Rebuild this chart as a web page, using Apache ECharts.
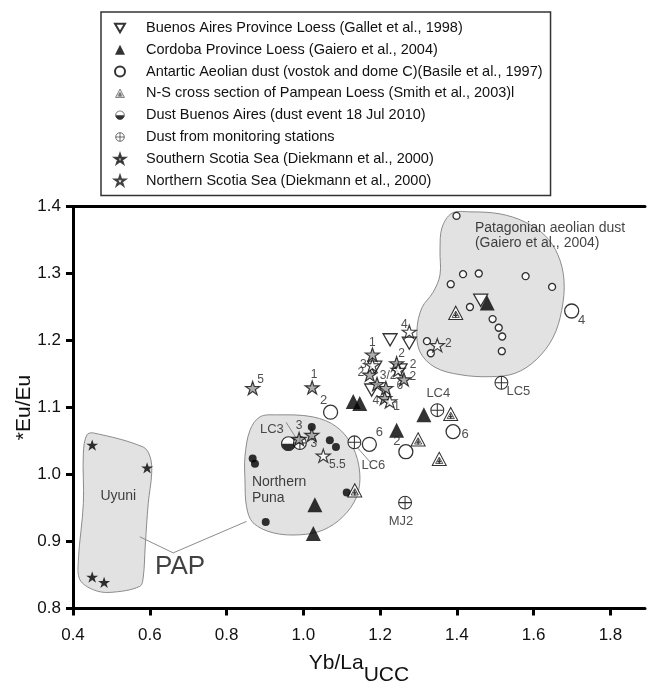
<!DOCTYPE html>
<html>
<head>
<meta charset="utf-8">
<script src="https://cdn.jsdelivr.net/npm/echarts@6/dist/echarts.min.js"></script>
<style>
  html, body { margin: 0; padding: 0; background: #fff; }
  #chart { width: 647px; height: 684px; }
</style>
</head>
<body>
<div id="chart"></div>
<script>
// ---- data: [Yb/La_UCC, *Eu/Eu] ----
const xTicks = [0.4, 0.6, 0.8, 1.0, 1.2, 1.4, 1.6, 1.8];
const yTicks = [0.8, 0.9, 1.0, 1.1, 1.2, 1.3, 1.4];

const buenosAiresLoess = [[1.462, 1.260], [1.226, 1.201], [1.276, 1.196], [1.186, 1.160], [1.178, 1.126], [1.252, 1.156]];
const cordobaLoess = [[1.479, 1.256], [1.130, 1.109], [1.147, 1.106], [1.314, 1.089], [1.243, 1.066], [1.030, 0.955], [1.026, 0.912]];
const antarcticDust = [[1.071, 1.093], [1.172, 1.045], [1.267, 1.034], [1.390, 1.064], [1.699, 1.244]];
const antarcticTags = ['2', '6', '2', '6', '4'];
const pampeanLoess = [[1.397, 1.241], [1.384, 1.090], [1.299, 1.052], [1.354, 1.023], [1.134, 0.976]];
const dustBuenosAires = [[0.961, 1.046]];
const monitoringDust = [[0.991, 1.047], [1.133, 1.048], [1.349, 1.096], [1.516, 1.137], [1.265, 0.958]];
const monitoringTags = ['LC3', 'LC6', 'LC4', 'LC5', 'MJ2'];
const southernScotia = [[0.868, 1.129], [1.023, 1.130], [0.989, 1.053], [1.022, 1.059], [1.180, 1.179], [1.173, 1.149],
  [1.192, 1.135], [1.215, 1.129], [1.243, 1.166], [1.262, 1.142], [1.212, 1.114]];
const southernTags = ['5', '1', '3', '3', '1', '2', '3/2', '6', '2', '2', '4'];
const northernScotia = [[1.052, 1.028], [1.349, 1.193], [1.276, 1.213], [1.225, 1.109], [1.180, 1.163], [1.247, 1.156]];
const northernTags = ['5.5', '2', '4', '1', '3', '2'];
const patagonianDust = [[1.399, 1.386], [1.416, 1.299], [1.457, 1.300], [1.384, 1.284], [1.579, 1.296], [1.648, 1.280],
  [1.434, 1.250], [1.493, 1.232], [1.509, 1.219], [1.518, 1.206], [1.517, 1.184], [1.322, 1.199], [1.332, 1.181]];
const punaSamples = [[1.022, 1.071], [1.069, 1.051], [1.085, 1.041], [0.868, 1.024], [0.874, 1.016], [1.113, 0.973], [0.902, 0.929]];
const uyuniSamples = [[0.450, 1.044], [0.593, 1.010], [0.450, 0.847], [0.481, 0.839]];

// ---- source-area outlines (data space) ----
const patagoniaOutline = [[1.387, 1.390], [1.434, 1.392], [1.512, 1.389], [1.577, 1.377], [1.629, 1.357], [1.663, 1.328],
  [1.679, 1.290], [1.673, 1.245], [1.650, 1.204], [1.606, 1.171], [1.551, 1.151], [1.486, 1.146], [1.408, 1.149],
  [1.343, 1.160], [1.304, 1.183], [1.296, 1.216], [1.309, 1.249], [1.338, 1.272], [1.356, 1.298], [1.356, 1.335], [1.361, 1.368]];
const punaOutline = [[0.887, 1.086], [0.930, 1.089], [1.025, 1.086], [1.087, 1.071], [1.129, 1.041], [1.147, 1.002],
  [1.139, 0.967], [1.103, 0.937], [1.051, 0.917], [0.991, 0.910], [0.921, 0.913], [0.869, 0.928], [0.852, 0.952],
  [0.848, 0.992], [0.848, 1.027], [0.861, 1.066]];
const uyuniOutline = [[0.436, 1.059], [0.453, 1.062], [0.583, 1.041], [0.601, 1.026], [0.605, 1.002], [0.596, 0.957],
  [0.588, 0.892], [0.583, 0.847], [0.574, 0.833], [0.496, 0.824], [0.453, 0.828], [0.418, 0.843], [0.414, 0.872],
  [0.427, 0.957], [0.427, 1.032]];
const papConnector = [[0.574, 0.907], [0.661, 0.883], [0.852, 0.930]];
const leaderLines = [[[0.955, 1.078], [0.984, 1.052]], [[1.141, 1.040], [1.175, 1.018]]];

// ---- label offsets (px) for the numbered / named points ----
const antarcticTagOffsets = [[-7, -12], [10, -12], [-9, -10], [12, 3], [10, 9]];
const monitoringTagOffsets = [[-28, -14], [19, 23], [1, -17], [17, 9], [-4, 19]];
const southernTagOffsets = [[8, -8], [2, -13], [0, -13], [2, 9], [0, -12], [-9, -2], [11, -8], [14, -2], [5, -10], [9, -3], [-9, 3]];
const northernTagOffsets = [[14, 9], [11, -2], [-5, -7], [7, 5], [-9, -1], [15, -5]];

const FONT = '"Liberation Sans", Arial, sans-serif';

function svgSymbol(body) {
  const svg = "<svg xmlns='http://www.w3.org/2000/svg' width='40' height='40' viewBox='0 0 20 20'>" + body + "</svg>";
  return 'image://data:image/svg+xml;charset=utf-8,' + encodeURIComponent(svg);
}
const circlePlusSym = svgSymbol("<circle cx='10' cy='10' r='8.6' fill='white' stroke='black' stroke-width='1.4'/><path d='M10 1.4V18.6M1.4 10H18.6' stroke='black' stroke-width='1.4'/>");
const halfCircleSym = svgSymbol("<circle cx='10' cy='10' r='8.6' fill='white' stroke='black' stroke-width='1.4'/><path d='M1.4 10A8.6 8.6 0 0 0 18.6 10Z' fill='black'/>");
const triPlusSym = svgSymbol("<path d='M10 1.5L18.8 18H1.2Z' fill='white' stroke='black' stroke-width='1.3'/><path d='M10 7.5L14.5 15.5H5.5Z' fill='none' stroke='black' stroke-width='1'/><path d='M10 9V16M7.6 13H12.4' stroke='black' stroke-width='1.6'/>");
const starPath = 'path://M50,0 L61.8,35.1 L98.9,35.1 L69.1,56.7 L80.9,91.9 L50,70 L19.1,91.9 L30.9,56.7 L1.1,35.1 L38.2,35.1 Z';
const invTriPath = 'path://M0,0 L100,0 L50,87 Z';

function tagged(points, tags, offsets, fontSize) {
  return points.map((p, i) => ({
    value: p,
    label: {
      show: true, formatter: tags[i], position: 'inside', offset: offsets[i],
      color: '#222', fontSize: fontSize, fontFamily: FONT
    }
  }));
}

function outlineSeries(points, closed) {
  return {
    type: 'custom', silent: true, z: 1,
    data: [0],
    renderItem: (params, api) => {
      const pts = points.map(p => api.coord(p));
      if (closed) {
        return { type: 'polygon', shape: { points: pts, smooth: 0.35 },
          style: { fill: '#e2e2e2', stroke: '#8c8c8c', lineWidth: 1 } };
      }
      return { type: 'polyline', shape: { points: pts },
        style: { fill: null, stroke: '#8c8c8c', lineWidth: 1 } };
    }
  };
}

function textSeries(items) {
  return {
    type: 'scatter', silent: true, z: 3, symbolSize: 0,
    data: items.map(it => ({
      value: it.at,
      label: { show: true, position: 'inside', formatter: it.text, align: it.align || 'center',
        color: '#111', fontSize: it.size, fontFamily: FONT, lineHeight: it.size * 1.15 }
    }))
  };
}

const chart = echarts.init(document.getElementById('chart'), null, { renderer: 'canvas' });

const legendNames = [
  'Buenos Aires Province Loess (Gallet et al., 1998)',
  'Cordoba Province Loess (Gaiero et al., 2004)',
  'Antartic Aeolian dust (vostok and dome C)(Basile et al., 1997)',
  'N-S cross section of Pampean Loess (Smith et al., 2003)l',
  'Dust Buenos Aires (dust event 18 Jul 2010)',
  'Dust from monitoring stations',
  'Southern Scotia Sea (Diekmann et al., 2000)',
  'Northern Scotia Sea (Diekmann et al., 2000)'
];

const axisLineStyle = { color: '#000', width: 3 };

chart.setOption({
  animation: false,
  backgroundColor: '#fff',
  grid: { left: 73, right: 2, top: 206.5, bottom: 75.5, outerBoundsMode: 'none', containLabel: false },
  legend: {
    data: legendNames,
    orient: 'vertical',
    left: 101, top: 12,
    padding: [8, 8, 7, 13],
    itemGap: 5.8,
    itemWidth: 10, itemHeight: 10,
    borderColor: '#333', borderWidth: 1.5,
    selectedMode: false,
    textStyle: { fontSize: 14.5, lineHeight: 16, color: '#111', fontFamily: FONT, padding: [0, 0, 0, 16] }
  },
  xAxis: [{
    type: 'value', min: 0.4, max: 1.89, position: 'bottom',
    axisLine: { show: true, lineStyle: axisLineStyle },
    axisTick: { show: true, length: 7, lineStyle: { width: 3, color: '#000' }, customValues: xTicks },
    axisLabel: { margin: 18, fontSize: 17, color: '#111', fontFamily: FONT, customValues: xTicks,
      formatter: v => v.toFixed(1) },
    splitLine: { show: false },
    name: '{a|Yb/La}{b|UCC}',
    nameLocation: 'middle', nameGap: 32, nameMoveOverlap: false,
    nameTextStyle: {
      rich: {
        a: { fontSize: 21, color: '#111', fontFamily: FONT },
        b: { fontSize: 21, color: '#111', fontFamily: FONT, padding: [24, 0, 0, 0] }
      }
    }
  }, {
    type: 'value', min: 0.4, max: 1.89, position: 'top',
    axisLine: { show: true, lineStyle: axisLineStyle },
    axisTick: { show: false }, axisLabel: { show: false }, splitLine: { show: false }
  }],
  yAxis: {
    type: 'value', min: 0.8, max: 1.4, interval: 0.1,
    axisLine: { show: true, lineStyle: axisLineStyle },
    axisTick: { show: true, length: 7, lineStyle: { width: 3, color: '#000' } },
    axisLabel: { margin: 12, fontSize: 17, color: '#111', fontFamily: FONT, formatter: v => v.toFixed(1) },
    splitLine: { show: false },
    name: '*Eu/Eu', nameLocation: 'middle', nameRotate: 90, nameGap: 38, nameMoveOverlap: false,
    nameTextStyle: { fontSize: 21, color: '#111', fontFamily: FONT }
  },
  series: [
    outlineSeries(patagoniaOutline, true),
    outlineSeries(punaOutline, true),
    outlineSeries(uyuniOutline, true),
    outlineSeries(papConnector, false),
    outlineSeries(leaderLines[0], false),
    outlineSeries(leaderLines[1], false),
    textSeries([
      { at: [0.518, 0.967], text: 'Uyuni', size: 14 },
      { at: [0.866, 0.989], text: 'Northern', size: 14, align: 'left' },
      { at: [0.866, 0.964], text: 'Puna', size: 14, align: 'left' },
      { at: [0.679, 0.862], text: 'PAP', size: 26 },
      { at: [1.447, 1.368], text: 'Patagonian aeolian dust', size: 14, align: 'left' },
      { at: [1.447, 1.346], text: '(Gaiero et al., 2004)', size: 14, align: 'left' }
    ]),
    {
      name: 'patagonian', type: 'scatter', z: 4, symbol: 'circle', symbolSize: 7,
      itemStyle: { color: '#fff', borderColor: '#000', borderWidth: 1.3 },
      data: patagonianDust
    },
    {
      name: 'puna', type: 'scatter', z: 4, symbol: 'circle', symbolSize: 8,
      itemStyle: { color: '#000' }, data: punaSamples
    },
    {
      name: 'uyuni', type: 'scatter', z: 4, symbol: starPath, symbolSize: 12, symbolKeepAspect: true,
      itemStyle: { color: '#000' }, data: uyuniSamples
    },
    {
      name: legendNames[0], type: 'scatter', z: 5, symbol: invTriPath, symbolSize: 14, symbolKeepAspect: true,
      itemStyle: { color: '#fff', borderColor: '#000', borderWidth: 1.3 }, data: buenosAiresLoess
    },
    {
      name: legendNames[1], type: 'scatter', z: 5, symbol: 'triangle', symbolSize: 15,
      itemStyle: { color: '#000' }, data: cordobaLoess
    },
    {
      name: legendNames[2], type: 'scatter', z: 5, symbol: 'circle', symbolSize: 14,
      itemStyle: { color: '#fff', borderColor: '#000', borderWidth: 1.3 },
      data: tagged(antarcticDust, antarcticTags, antarcticTagOffsets, 13)
    },
    {
      name: legendNames[3], type: 'scatter', z: 5, symbol: triPlusSym, symbolSize: 16,
      data: pampeanLoess
    },
    {
      name: legendNames[4], type: 'scatter', z: 6, symbol: halfCircleSym, symbolSize: 16,
      data: dustBuenosAires
    },
    {
      name: legendNames[5], type: 'scatter', z: 6, symbol: circlePlusSym, symbolSize: 15,
      data: tagged(monitoringDust, monitoringTags, monitoringTagOffsets, 13)
    },
    {
      name: legendNames[6], type: 'scatter', z: 7, symbol: starPath, symbolSize: 14, symbolKeepAspect: true,
      itemStyle: { color: '#9a9a9a', borderColor: '#111', borderWidth: 1.2 },
      data: tagged(southernScotia, southernTags, southernTagOffsets, 12)
    },
    {
      name: legendNames[7], type: 'scatter', z: 7, symbol: starPath, symbolSize: 14, symbolKeepAspect: true,
      itemStyle: { color: '#fff', borderColor: '#111', borderWidth: 1.2 },
      data: tagged(northernScotia, northernTags, northernTagOffsets, 12)
    }
  ]
});
</script>
</body>
</html>
